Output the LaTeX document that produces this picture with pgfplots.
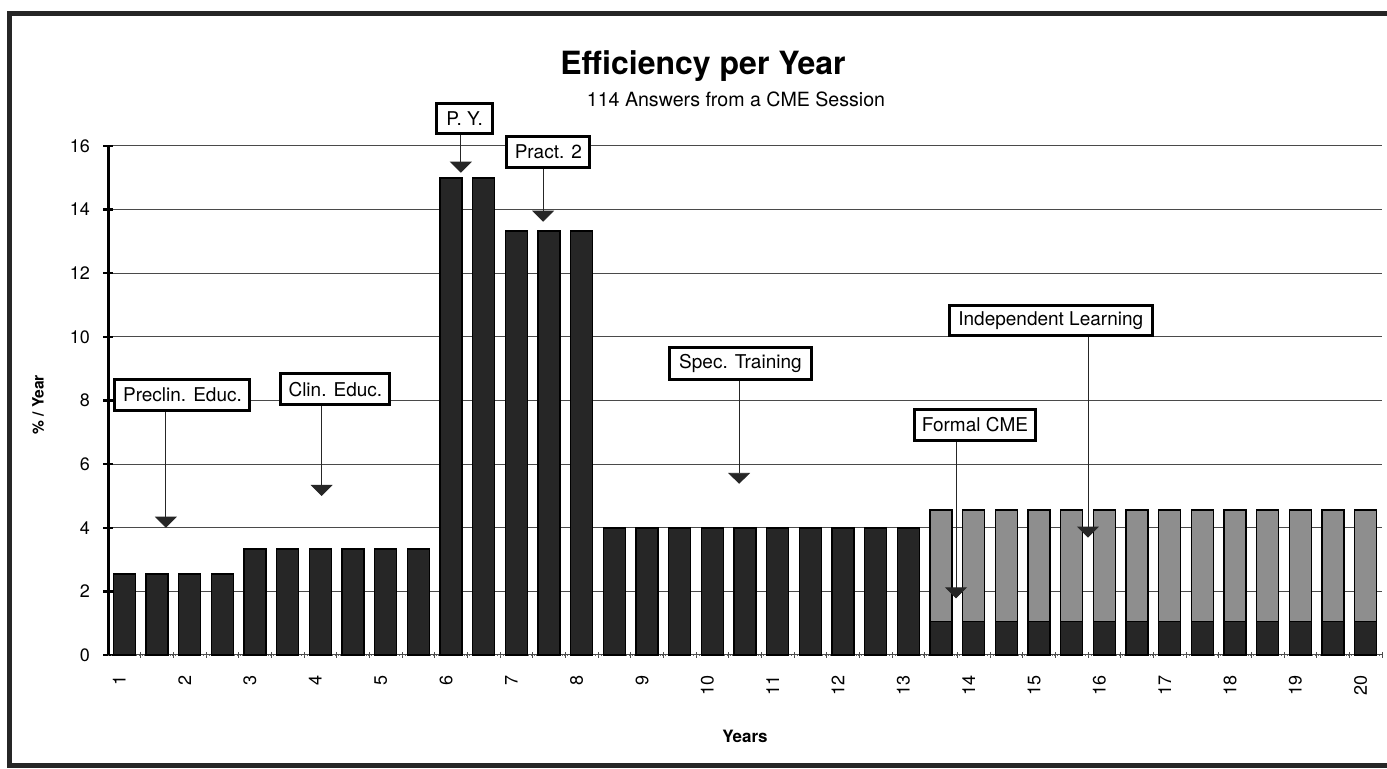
\documentclass[border=0pt]{standalone}
\usepackage{pgfplots}
\pgfplotsset{compat=1.18}
\usepackage{fontspec}
\setmainfont{TeX Gyre Heros}
\usetikzlibrary{arrows.meta}
\definecolor{darkbar}{HTML}{262626}
\definecolor{lightbar}{HTML}{8E8E8E}
\definecolor{gridc}{HTML}{4A4A4A}
\tikzset{
  annarrow/.style={gray!30!black, line width=0.45pt, -{Triangle[width=11pt,length=5.5pt]}},
  annbox/.style={draw=black, line width=1.5pt, fill=white, inner sep=0pt, font=\fontsize{9.5}{11}\selectfont},
}
\begin{document}
\begin{tikzpicture}
\useasboundingbox (0,0) rectangle (693.5pt,384.5pt);
\fill[white] (0,0) rectangle (693.5pt,384.5pt);
\draw[line width=2.5pt, black!85] (693.5pt,377.5pt) -- (4.5pt,377.5pt) -- (4.5pt,1.5pt) -- (693.5pt,1.5pt);
\begin{axis}[
  at={(54pt,57pt)}, anchor=south west,
  scale only axis, width=637pt, height=254.5pt,
  xmin=0.75, xmax=20.25, ymin=0, ymax=16,
  clip=false,
  axis lines*=left,
  x axis line style={draw=black!60, line width=0.4pt, densely dotted},
  y axis line style={line width=1.5pt},
  xtick={1,...,20},
  minor xtick={1.25,1.75,...,20.25},
  ytick={0,2,...,16},
  ymajorgrids,
  grid style={gridc, line width=0.5pt},
  tick align=center,
  major tick length=5pt,
  minor tick length=3pt,
  every major x tick/.append style={draw=none},
  every minor x tick/.append style={black!70, line width=0.4pt},
  every major y tick/.append style={black, line width=1.2pt},
  /pgf/number format/assume math mode=true,
  tick label style={font=\fontsize{9}{10}\selectfont},
  xticklabel style={rotate=90, anchor=east, xshift=-4pt, yshift=2.5pt},
  yticklabel style={xshift=-3pt},
]
\addplot[ybar, bar width=11pt, bar shift=0pt, fill=lightbar, draw=black, line width=0.8pt] coordinates {
 (13.5,4.55)(14,4.55)(14.5,4.55)(15,4.55)(15.5,4.55)(16,4.55)(16.5,4.55)
 (17,4.55)(17.5,4.55)(18,4.55)(18.5,4.55)(19,4.55)(19.5,4.55)(20,4.55)};
\addplot[ybar, bar width=11pt, bar shift=0pt, fill=darkbar, draw=black, line width=0.8pt] coordinates {
 (1,2.55)(1.5,2.55)(2,2.55)(2.5,2.55)
 (3,3.33)(3.5,3.33)(4,3.33)(4.5,3.33)(5,3.33)(5.5,3.33)
 (6,15)(6.5,15)
 (7,13.33)(7.5,13.33)(8,13.33)
 (8.5,4)(9,4)(9.5,4)(10,4)(10.5,4)(11,4)(11.5,4)(12,4)(12.5,4)(13,4)
 (13.5,1.05)(14,1.05)(14.5,1.05)(15,1.05)(15.5,1.05)(16,1.05)(16.5,1.05)
 (17,1.05)(17.5,1.05)(18,1.05)(18.5,1.05)(19,1.05)(19.5,1.05)(20,1.05)};
% annotations
\draw[annarrow] (axis cs:1.636,8.18) -- (axis cs:1.636,4.0);
\node[annbox, minimum width=67.5pt, minimum height=15.5pt] at (axis cs:1.89,8.18) {Preclin. Educ.};
\draw[annarrow] (axis cs:4.02,8.35) -- (axis cs:4.02,5.0);
\node[annbox, minimum width=54.5pt, minimum height=15.5pt] at (axis cs:4.23,8.35) {Clin. Educ.};
\draw[annarrow] (axis cs:6.15,16.85) -- (axis cs:6.15,15.16);
\node[annbox, minimum width=28pt, minimum height=15pt] at (axis cs:6.21,16.85) {P. Y.};
\draw[annarrow] (axis cs:7.41,15.82) -- (axis cs:7.41,13.62);
\node[annbox, minimum width=41.5pt, minimum height=15.5pt] at (axis cs:7.49,15.82) {Pract. 2};
\draw[annarrow] (axis cs:10.41,9.16) -- (axis cs:10.41,5.38);
\node[annbox, minimum width=71pt, minimum height=16pt] at (axis cs:10.43,9.16) {Spec. Training};
\draw[annarrow] (axis cs:13.73,7.23) -- (axis cs:13.73,1.78);
\node[annbox, minimum width=60.5pt, minimum height=15.5pt] at (axis cs:14.02,7.23) {Formal CME};
\draw[annarrow] (axis cs:15.75,10.5) -- (axis cs:15.75,3.69);
\node[annbox, minimum width=101.5pt, minimum height=15pt] at (axis cs:15.18,10.5) {Independent Learning};
\end{axis}
\node[anchor=base, font=\fontsize{16}{19}\selectfont\bfseries] at (351.5pt,347pt) {Efficiency per Year};
\node[anchor=base, font=\fontsize{9.8}{12}\selectfont] at (368pt,331pt) {114 Answers from a CME Session};
\node[anchor=base, font=\fontsize{8.5}{10}\selectfont\bfseries] at (372.5pt,13pt) {Years};
\node[rotate=90, font=\fontsize{7.8}{9}\selectfont\bfseries] at (19pt,182pt) {\% / Year};
\end{tikzpicture}
\end{document}
